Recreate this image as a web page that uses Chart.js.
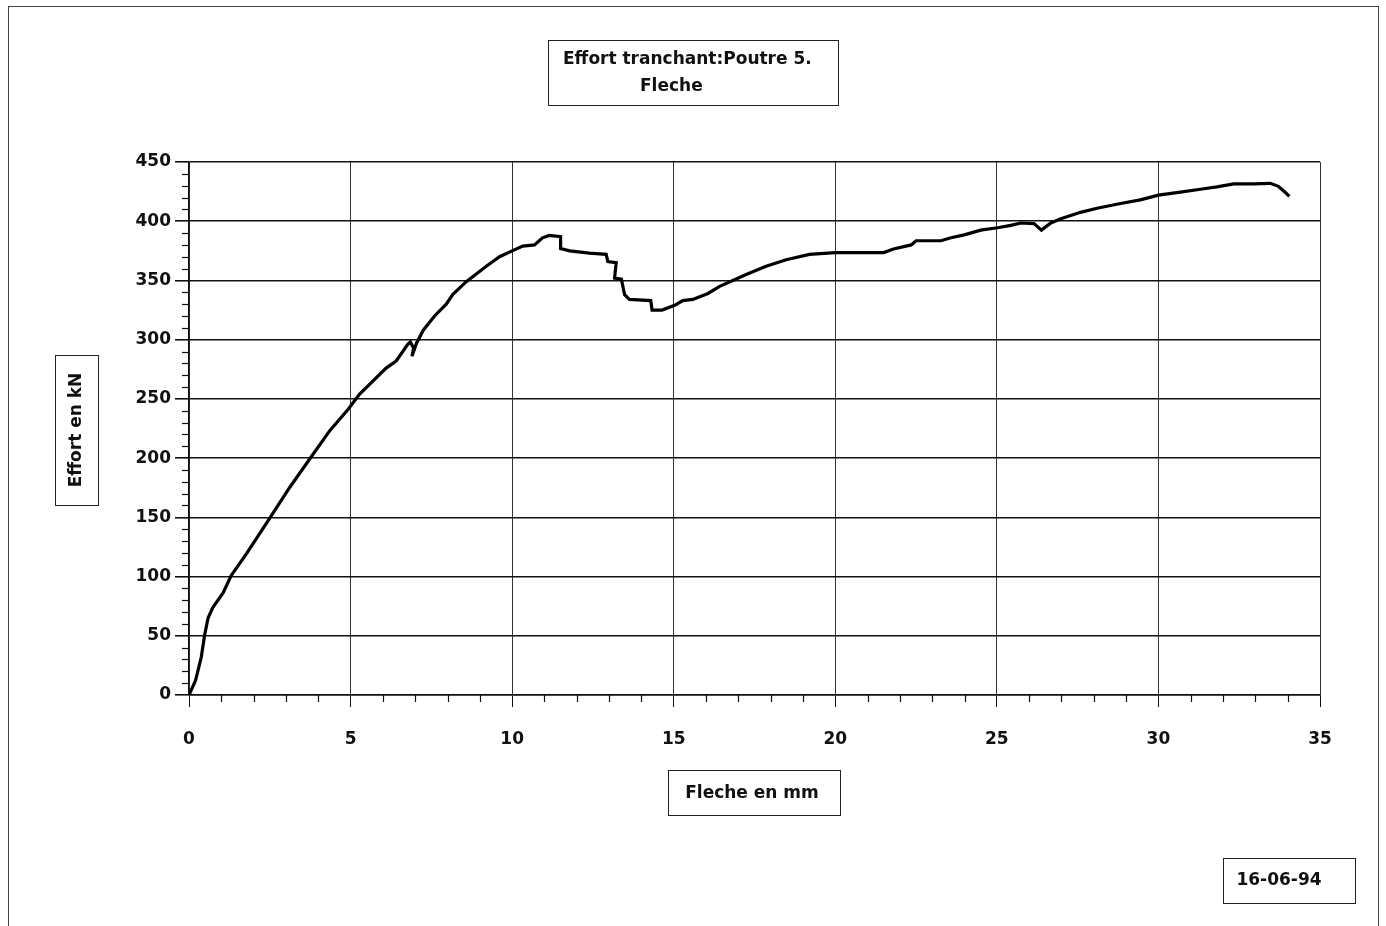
<!DOCTYPE html>
<html>
<head>
<meta charset="utf-8">
<script src="https://cdn.jsdelivr.net/npm/chart.js@4"></script>
<style>
  html, body { margin: 0; padding: 0; background: #fff; }
  #wrap { width: 1386px; height: 926px; }
</style>
</head>
<body>
<div id="wrap"><canvas id="chart" width="1386" height="926"></canvas></div>
<script>
/* ================= DATA ================= */
const deflection = [
  0, 0.2, 0.38, 0.48, 0.59, 0.74, 1.05, 1.31, 1.77, 2.49, 3.11, 3.73, 4.35, 4.92, 5.28, 5.54,
  6.1, 6.41, 6.77, 6.85, 6.95, 6.9, 7.04, 7.25, 7.6, 7.96, 8.16, 8.58, 9.2, 9.61, 10, 10.33,
  10.69, 10.94, 11.15, 11.5, 11.5, 11.78, 12.39, 12.91, 12.96, 13.22, 13.17, 13.38, 13.48, 13.63,
  14.29, 14.33, 14.64, 15.03, 15.28, 15.59, 16.06, 16.42, 16.83, 17.24, 17.86, 18.48, 19.2, 20,
  20.96, 21.5, 21.8, 22.35, 22.5, 23.27, 23.58, 23.99, 24.5, 25.02, 25.43, 25.74, 26.15, 26.38,
  26.67, 26.98, 27.59, 28.1, 28.83, 29.44, 30, 30.68, 31.3, 31.81, 32.33, 32.94, 33.46, 33.71,
  33.92, 34.05
];
const force = [
  0, 12, 32, 50, 65, 74, 86, 101, 119, 149, 175, 199, 223, 241, 254, 261,
  276, 282, 296, 298, 293, 286, 297, 308, 320, 330, 338, 349, 362, 370, 375, 379,
  380, 386, 388, 387, 377, 375, 373, 372, 366, 365, 352, 351, 338, 334,
  333, 325, 325, 329, 333, 334, 339, 345, 350, 355, 362, 367.5, 372, 373.5,
  373.5, 373.5, 376.5, 380, 383.5, 383.5, 386, 388.5, 392.5, 394.5, 396.5, 398.5, 398, 392.5,
  398.5, 402, 407.5, 411, 415, 418, 422, 424.5, 427, 429, 431.5, 431.5, 432, 429.5,
  424.5, 421
];
const xTicks = [0, 5, 10, 15, 20, 25, 30, 35];
const yTicks = [0, 50, 100, 150, 200, 250, 300, 350, 400, 450];

const titleLines = ["Effort tranchant:Poutre 5.", "Fleche"];
const xTitle = "Fleche en mm";
const yTitle = "Effort en kN";
const dateLabel = "16-06-94";

const FONT = '"DejaVu Sans", Arial, sans-serif';

/* ================= BOXES + MINOR TICKS ================= */
function drawBox(ctx, x, y, w, h) {
  ctx.save();
  ctx.strokeStyle = "#222";
  ctx.lineWidth = 1;
  ctx.strokeRect(x + 0.5, y + 0.5, w, h);
  ctx.restore();
}

const decorPlugin = {
  id: "decor",
  afterDraw(chart) {
    const ctx = chart.ctx;
    const xs = chart.scales.x;
    const ys = chart.scales.y;

    // minor ticks (every 1 mm / every 10 kN)
    ctx.save();
    ctx.strokeStyle = "#111";
    ctx.lineWidth = 1.2;
    for (let v = xs.min; v <= xs.max; v += 1) {
      if (v % 5 === 0) continue;
      const px = Math.round(xs.getPixelForValue(v)) + 0.5;
      ctx.beginPath();
      ctx.moveTo(px, ys.bottom);
      ctx.lineTo(px, ys.bottom + 7);
      ctx.stroke();
    }
    for (let v = ys.min; v <= ys.max; v += 10) {
      if (v % 50 === 0) continue;
      const py = Math.round(ys.getPixelForValue(v)) + 0.5;
      ctx.beginPath();
      ctx.moveTo(xs.left - 7, py);
      ctx.lineTo(xs.left, py);
      ctx.stroke();
    }
    ctx.restore();

    // outer page frame
    ctx.save();
    ctx.strokeStyle = "#444";
    ctx.lineWidth = 1;
    ctx.strokeRect(8.5, 6.5, 1370, 930);
    ctx.restore();

    ctx.save();
    ctx.fillStyle = "#111";
    ctx.font = "bold 17px " + FONT;
    ctx.textBaseline = "middle";

    // title box
    drawBox(ctx, 548, 40, 290, 65);
    ctx.textAlign = "left";
    ctx.fillText(titleLines[0], 563, 60);
    ctx.fillText(titleLines[1], 640, 87);

    // x title box
    drawBox(ctx, 668, 770, 172, 45);
    ctx.textAlign = "center";
    ctx.fillText(xTitle, 752, 794);

    // date box
    drawBox(ctx, 1223, 858, 132, 45);
    ctx.fillText(dateLabel, 1279, 881);

    // y title box
    drawBox(ctx, 55, 355, 43, 150);
    ctx.translate(77, 430);
    ctx.rotate(-Math.PI / 2);
    ctx.fillText(yTitle, 0, 0);
    ctx.restore();
  }
};

/* ================= CHART ================= */
const points = deflection.map((d, i) => ({ x: d, y: force[i] }));

new Chart(document.getElementById("chart").getContext("2d"), {
  type: "scatter",
  data: {
    datasets: [{
      data: points,
      showLine: true,
      borderColor: "#000",
      borderWidth: 3.2,
      pointRadius: 0,
      tension: 0,
      fill: false
    }]
  },
  options: {
    responsive: false,
    animation: false,
    layout: { padding: { left: 109, right: 66, top: 162, bottom: 171 } },
    plugins: {
      legend: { display: false },
      tooltip: { enabled: false }
    },
    scales: {
      x: {
        type: "linear",
        min: 0,
        max: 35,
        afterBuildTicks: (scale) => { scale.ticks = xTicks.map(v => ({ value: v })); },
        afterFit: (scale) => { scale.height = 60; },
        border: { color: "#111", width: 1.5 },
        grid: { color: "#333", lineWidth: 1, tickLength: 12, tickColor: "#111" },
        ticks: {
          color: "#111",
          padding: 22,
          maxRotation: 0,
          font: { family: FONT, size: 17, weight: "bold" }
        }
      },
      y: {
        type: "linear",
        min: 0,
        max: 450,
        afterBuildTicks: (scale) => { scale.ticks = yTicks.map(v => ({ value: v })); },
        afterFit: (scale) => { scale.width = 80; },
        border: { color: "#111", width: 1.5 },
        grid: { color: "#111", lineWidth: 1.6, tickLength: 14, tickColor: "#111" },
        ticks: {
          color: "#111",
          padding: 4,
          font: { family: FONT, size: 17, weight: "bold" }
        }
      }
    }
  },
  plugins: [decorPlugin]
});
</script>
</body>
</html>
